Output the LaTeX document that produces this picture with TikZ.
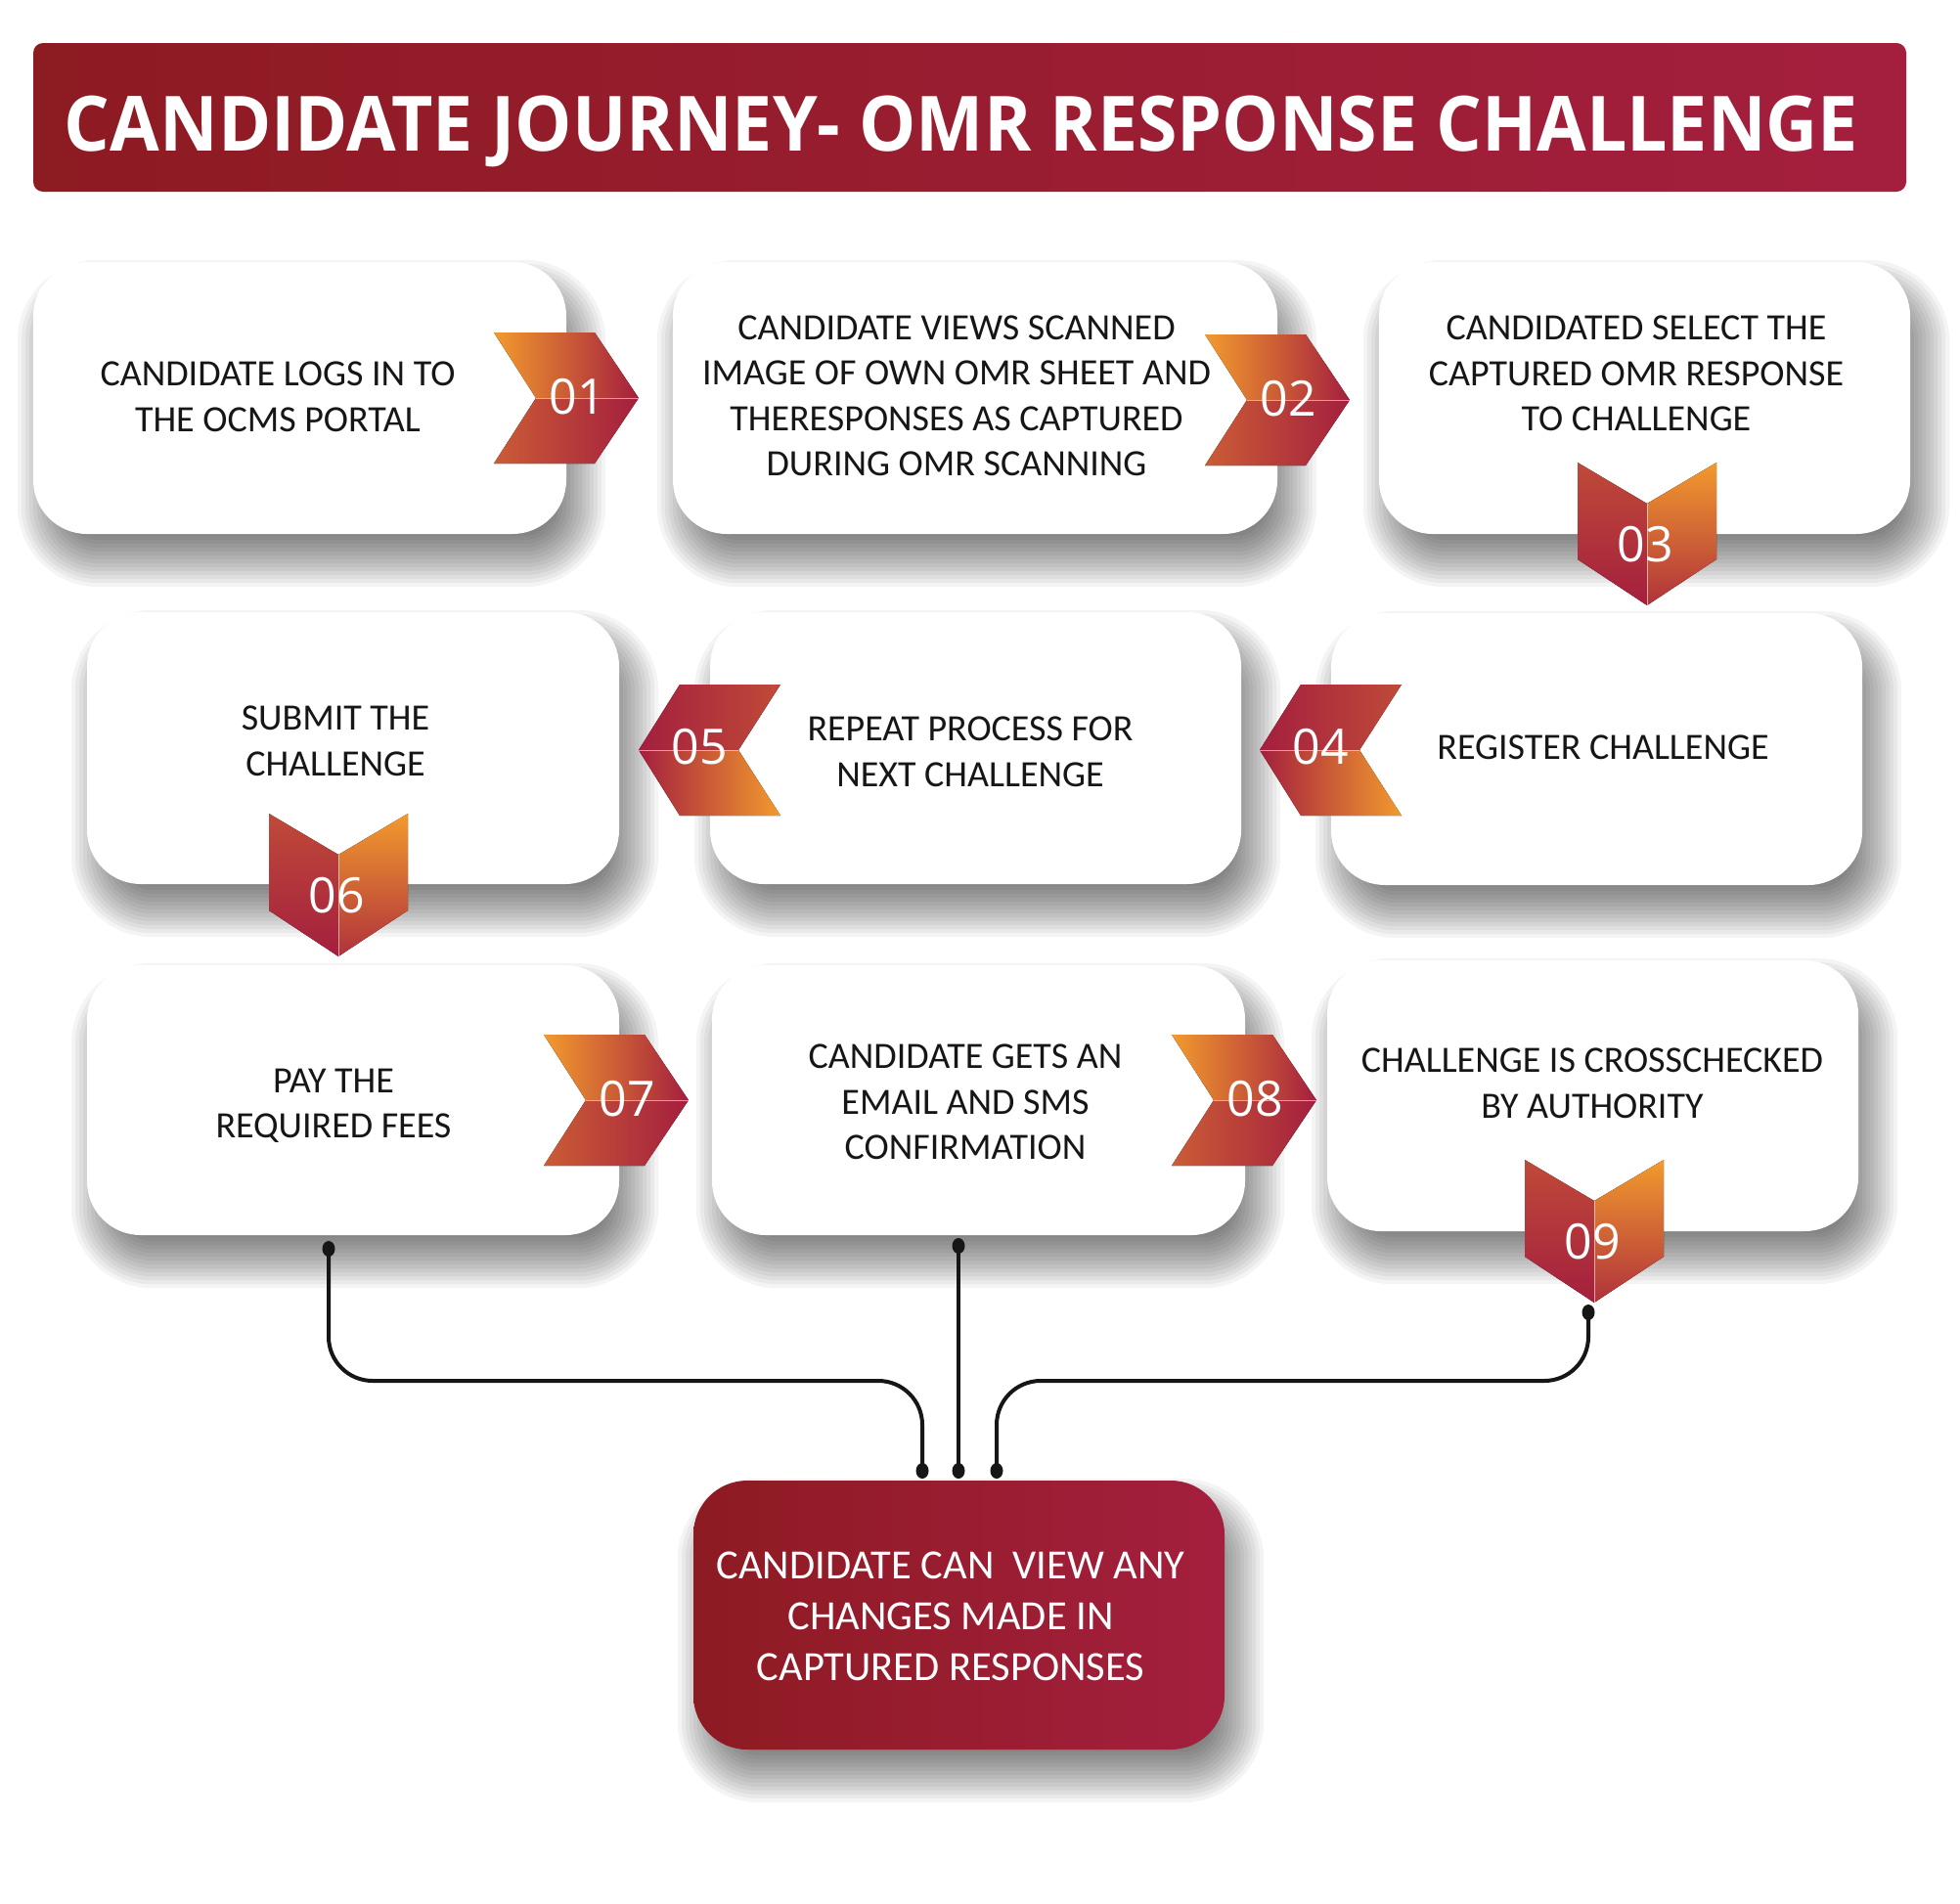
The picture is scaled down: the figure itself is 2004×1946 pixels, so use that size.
\documentclass[tikz,border=0pt]{standalone}
\usepackage{fontspec}
\setmainfont{Open Sans}
\newfontfamily\carl{Carlito}
\usepackage{graphicx}
\usetikzlibrary{calc}

\definecolor{crim}{HTML}{A41F3E}
\definecolor{orng}{HTML}{F29A2E}
\definecolor{dred}{HTML}{8D1B22}
\definecolor{ink}{HTML}{161616}

\pgfdeclarelayer{back}
\pgfdeclarelayer{shade}
\pgfsetlayers{back,shade,main}

\tikzset{
  wbox/.style={rectangle, rounded corners=55pt, fill=white, inner sep=0pt},
  btxt/.style={align=center, font=\carl\fontsize{38}{46.5}\selectfont, text=ink, inner sep=0pt},
  ftxt/.style={align=center, font=\carl\fontsize{42.5}{52}\selectfont, text=white, inner sep=0pt},
  ntxt/.style={font=\fontsize{50}{50}\selectfont, text=white, inner sep=0pt},
  conn/.style={line width=4pt, draw=ink, rounded corners=45pt},
  sepline/.style={draw=white, draw opacity=0.55, line width=1pt},
  dotmark/.style={fill=ink},
  shadowstep/.style={fill=black, fill opacity=0.043}
}

% soft drop shadow behind a named node
\newcommand\shadowfor[1]{%
  \foreach \r in {-28,-24,...,28}{%
    \pgfmathsetmacro\rc{55+\r}%
    \fill[shadowstep, rounded corners=\rc pt]
      ($(#1.north west)+({12-(\r)},{26-(\r)})$) rectangle ($(#1.south east)+({12+\r},{26+\r})$);
  }}

% right-pointing chevron: tip x, tip y, name, label
\newcommand\chevR[4]{%
  \fill[left color=orng, right color=crim] (#1-148,#2-67) -- (#1-45,#2-67) -- (#1,#2) -- (#1-105,#2) -- cycle;
  \fill[left color=orng!50!crim, right color=crim] (#1-105,#2) -- (#1,#2) -- (#1-45,#2+67) -- (#1-148,#2+67) -- cycle;
  \draw[sepline] (#1-105,#2) -- (#1,#2);
  \node[ntxt] (#3) at (#1-63,#2-1) {#4};
}
% left-pointing chevron: tip x, tip y, name, label
\newcommand\chevL[4]{%
  \fill[left color=crim, right color=orng!35!crim] (#1,#2) -- (#1+42,#2-67) -- (#1+145,#2-67) -- (#1+102,#2) -- cycle;
  \fill[left color=crim, right color=orng] (#1,#2) -- (#1+102,#2) -- (#1+145,#2+67) -- (#1+42,#2+67) -- cycle;
  \draw[sepline] (#1,#2) -- (#1+102,#2);
  \node[ntxt] (#3) at (#1+62,#2-3) {#4};
}
% down-pointing chevron: centre x, top y, name, label
\newcommand\chevD[4]{%
  \fill[top color=orng!35!crim, bottom color=crim] (#1-71,#2) -- (#1,#2+42) -- (#1,#2+146) -- (#1-71,#2+99) -- cycle;
  \fill[top color=orng, bottom color=crim!85!orng] (#1,#2+42) -- (#1+71,#2) -- (#1+71,#2+99) -- (#1,#2+146) -- cycle;
  \draw[sepline] (#1,#2+42) -- (#1,#2+146);
  \node[ntxt] (#3) at (#1-2,#2+84) {#4};
}

\begin{document}
\begin{tikzpicture}[x=1pt,y=-1pt]
\useasboundingbox (0,0) rectangle (2004,1946);
\begin{pgfonlayer}{back}
\fill[white] (0,0) rectangle (2004,1946);
\end{pgfonlayer}

% title bar
\node[rectangle, rounded corners=10pt, minimum width=1915pt, minimum height=152pt, inner sep=0pt,
  left color=dred, middle color=crim!96!dred, right color=crim] (bar) at (991.5,120) {};
\node[anchor=base, text=white, inner sep=0pt, font=\bfseries\fontsize{78}{78}\selectfont] (title) at (983,154)
  {\resizebox{1834pt}{\height}{CANDIDATE JOURNEY- OMR RESPONSE CHALLENGE}};

% row 1
\node[wbox, minimum width=545pt, minimum height=278pt] (b1) at (306.5,407) {};
\node[wbox, minimum width=618pt, minimum height=278pt] (b2) at (997,407) {};
\node[wbox, minimum width=543pt, minimum height=278pt] (b3) at (1681.5,407) {};
% row 2
\node[wbox, minimum width=544pt, minimum height=278pt] (b6) at (361,765) {};
\node[wbox, minimum width=543pt, minimum height=278pt] (b5) at (997.5,765) {};
\node[wbox, minimum width=543pt, minimum height=278pt] (b4) at (1632.5,766) {};
% row 3
\node[wbox, minimum width=544pt, minimum height=276pt] (b7) at (361,1125) {};
\node[wbox, minimum width=545pt, minimum height=276pt] (b8) at (1000.5,1125) {};
\node[wbox, minimum width=543pt, minimum height=277pt] (b9) at (1628.5,1120.5) {};
% final box
\node[rectangle, rounded corners=55pt, minimum width=543pt, minimum height=275pt, inner sep=0pt,
  left color=dred, middle color=crim!96!dred, right color=crim] (final) at (980.5,1651.5) {};

% shadows
\begin{pgfonlayer}{shade}
\foreach \b in {b1,b2,b3,b4,b5,b6,b7,b8,b9,final} {\shadowfor{\b}}
\end{pgfonlayer}

% texts
\node[btxt] (t1) at (284,406) {CANDIDATE LOGS IN TO\\THE OCMS PORTAL};
\node[btxt] (t2) at (978,405) {CANDIDATE VIEWS SCANNED\\IMAGE OF OWN OMR SHEET AND\\THERESPONSES AS CAPTURED\\DURING OMR SCANNING};
\node[btxt] (t3) at (1673,382) {CANDIDATED SELECT THE\\CAPTURED OMR RESPONSE\\TO CHALLENGE};
\node[btxt] (t6) at (343,758) {SUBMIT THE\\CHALLENGE};
\node[btxt] (t5) at (992,769) {REPEAT PROCESS FOR\\NEXT CHALLENGE};
\node[btxt] (t4) at (1639,764) {REGISTER CHALLENGE};
\node[btxt] (t7) at (341,1131) {PAY THE\\REQUIRED FEES};
\node[btxt] (t8) at (987,1127) {CANDIDATE GETS AN\\EMAIL AND SMS\\CONFIRMATION};
\node[btxt] (t9) at (1628,1108) {CHALLENGE IS CROSSCHECKED\\BY AUTHORITY};
\node[ftxt] (tf) at (972,1653) {CANDIDATE CAN\ \ VIEW ANY\\CHANGES MADE IN\\CAPTURED RESPONSES};

% chevrons
\chevR{653}{407}{c1}{01}
\chevR{1380}{409}{c2}{02}
\chevD{1684}{473}{c3}{03}
\chevL{1288}{767}{c4}{04}
\chevL{653}{767}{c5}{05}
\chevD{346}{832}{c6}{06}
\chevR{704}{1125}{c7}{07}
\chevR{1346}{1125}{c8}{08}
\chevD{1630}{1186}{c9}{09}

% connectors
\coordinate (d7) at (336,1277);
\coordinate (d8) at (980,1274);
\coordinate (d9) at (1624,1342);
\coordinate (e1) at (943,1504);
\coordinate (e2) at (980,1504);
\coordinate (e3) at (1019,1504);
\coordinate (k1) at (943,1412);
\coordinate (k3) at (1019,1412);
\draw[conn] (d7) |- (k1) -- (e1);
\draw[conn] (d8) -- (e2);
\draw[conn] (d9) |- (k3) -- (e3);
\foreach \p in {d7,d8,d9,e1,e2,e3}
  \fill[dotmark] (\p) ellipse [x radius=6.5pt, y radius=8pt];
\end{tikzpicture}
\end{document}
